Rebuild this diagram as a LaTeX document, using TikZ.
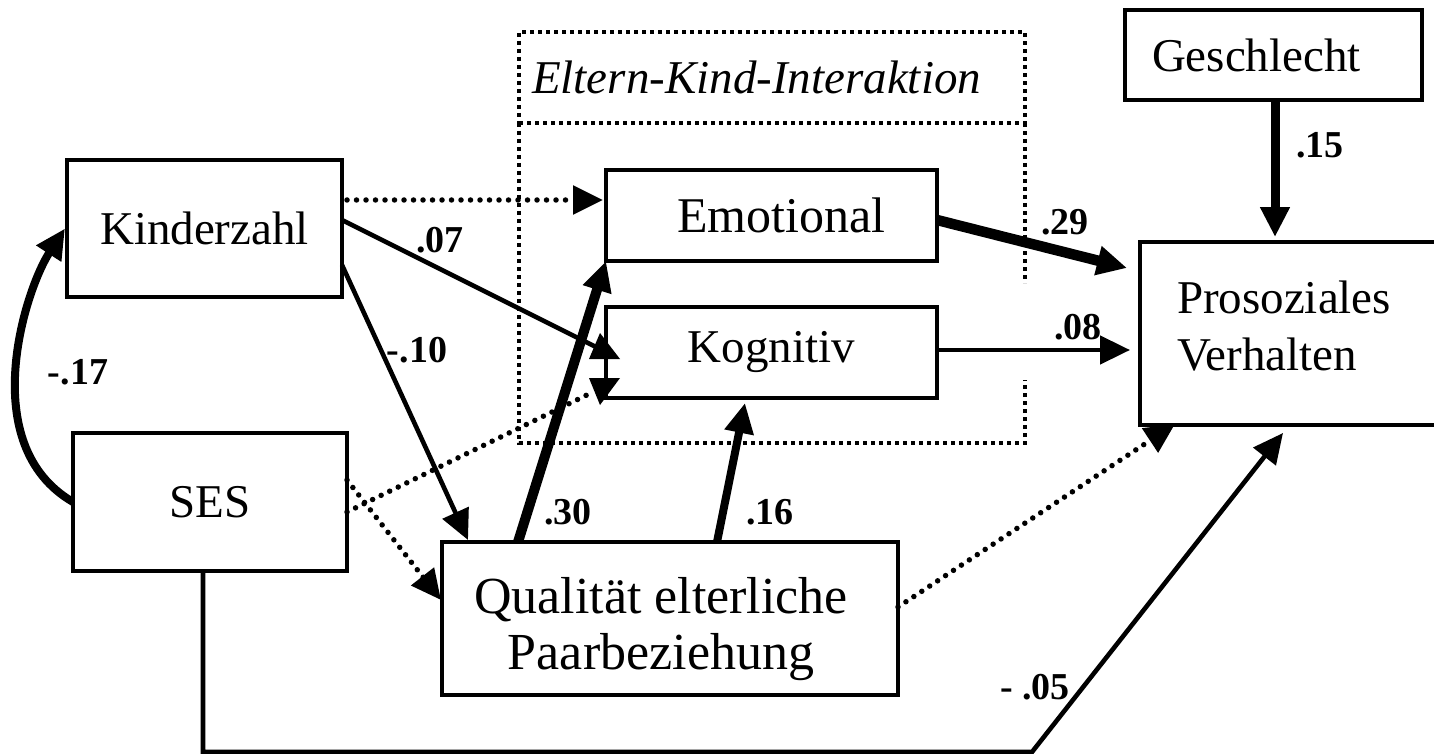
\documentclass[tikz,border=0pt]{standalone}
\usepackage{fontspec}
\setmainfont{Liberation Serif}
\usetikzlibrary{arrows.meta,calc}
\newcommand\boxfont{\fontsize{47}{57}\selectfont}
\newcommand\lblfont{\bfseries\fontsize{38}{42}\selectfont}
\begin{document}
\begin{tikzpicture}[x=1pt,y=-1pt,
  box/.style={draw, line width=3.2pt, inner sep=0pt, outer sep=0pt, font=\boxfont},
  lbl/.style={font=\lblfont, inner sep=0pt},
  arr/.style={-{Triangle[length=30pt,width=28pt]}},
  solidc/.style={line width=4.6pt, arr},
  dotline/.style={line width=5.5pt, dash pattern=on 0pt off 9.5pt, line cap=round},
  dotc/.style={dotline, arr},
  framec/.style={line width=4.5pt, dash pattern=on 4pt off 4pt},
]
\useasboundingbox (0,0) rectangle (1434,754);

% boxes
\node[box, minimum width=275pt, minimum height=137pt] (kind) at (204.5,228.5) {Kinderzahl};
\node[box, minimum width=274pt, minimum height=138pt] (ses) at (210,502) {SES};
\node[box, minimum width=331pt, minimum height=91pt, font=\fontsize{50}{57}\selectfont] (emo) at (771.5,215.5) {\hspace*{20pt}Emotional};
\node[box, minimum width=331pt, minimum height=91pt] (kog) at (771.5,352.5) {Kognitiv};
\node[box, minimum width=456pt, minimum height=153pt, align=center, font=\fontsize{52}{56}\selectfont] (qual) at (670,618.5) {\rule{0pt}{58pt}Qualität elterliche\hspace*{18pt}\\Paarbeziehung\hspace*{18pt}};
\node[box, minimum height=183pt, text width=222pt, inner xsep=37pt, align=left, text depth=73pt] (pro) at (1288,333.5) {Prosoziales\\Verhalten};
\node[box, minimum height=90pt, text width=243pt, inner xsep=27pt, align=left] (gesch) at (1273.5,55) {Geschlecht};

% dotted group frame
\node[framec, draw, minimum height=91pt, text width=480pt, inner xsep=13pt, inner ysep=0pt, outer sep=0pt, align=left, font=\boxfont\itshape] (title) at (772,77.5) {Eltern-Kind-Interaktion};
\draw[framec] (title.south west) -- ($(title.south west)+(0,320)$) -- ($(title.south east)+(0,320)$) -- ($(title.south east)+(0,257)$);
\draw[framec] (title.south east) -- ($(title.south east)+(0,160)$);

% connectors
\draw[dotc] ($(kind.north east)+(5,40)$) -- ($(emo.north west)+(-3,30)$);

\coordinate (k07) at ($(kog.north west)+(-8,41)$);
\draw[line width=4.6pt] ($(kind.north east)+(0,60)$) -- (k07);
\fill ($(kog.north west)+(-6,26)$) -- ($(kog.north west)+(-17,52)$) -- ($(kog.north west)+(14,52)$) -- cycle;

\coordinate (s2k) at ($(kog.south west)+(-13,-6)$);
\draw[dotline] ($(ses.east)+(0,10)$) -- (s2k);
\fill ($(kog.south west)+(-6,7)$) -- ($(kog.south west)+(-17,-20)$) -- ($(kog.south west)+(14,-20)$) -- cycle;

\draw[solidc] ($(kind.south east)+(0,-32)$) -- ($(qual.north west)+(26,-2)$);
\draw[dotc] ($(ses.east)+(0,-22)$) -- ($(qual.north west)+(-1,58)$);

\draw[line width=10pt, arr] ($(qual.north west)+(76,0)$) -- (emo.south west);
\draw[line width=8pt, arr] ($(qual.north west)+(275,0)$) -- ($(kog.south west)+(139,5)$);

\draw[line width=10.5pt, arr] ($(emo.east)+(0,4.5)$) -- ($(pro.north west)+(-13,26)$);
\draw[solidc] ($(kog.east)+(0,-2.5)$) -- ($(pro.north west)+(-10,108)$);
\draw[line width=9pt, arr] ($(gesch.south)+(1.5,0)$) -- ($(pro.north west)+(135,-5)$);

\draw[dotc] ($(qual.east)+(0,-11.5)$) -- ($(pro.south west)+(35,-1)$);

\coordinate (sesb) at (1032,752);
\draw[solidc] ($(ses.south)+(-7,0)$) |- (sesb) -- ($(pro.south west)+(143,8)$);

\draw[line width=8pt, arr] (ses.west) .. controls (-25,445) and (25,290) .. ($(kind.west)+(-2,0)$);

% labels
\node[lbl] (l07) at (440,240) {.07};
\node[lbl] (l10) at (417,350) {-.10};
\node[lbl] (l17) at (78,372) {-.17};
\node[lbl] (l30) at (568,512) {.30};
\node[lbl] (l16) at (770,512) {.16};
\node[lbl] (l29) at (1065,222) {.29};
\node[lbl] (l08) at (1078,327) {.08};
\node[lbl] (l15) at (1320,145) {.15};
\node[lbl] (l05) at (1035,687) {- .05};
\end{tikzpicture}
\end{document}
